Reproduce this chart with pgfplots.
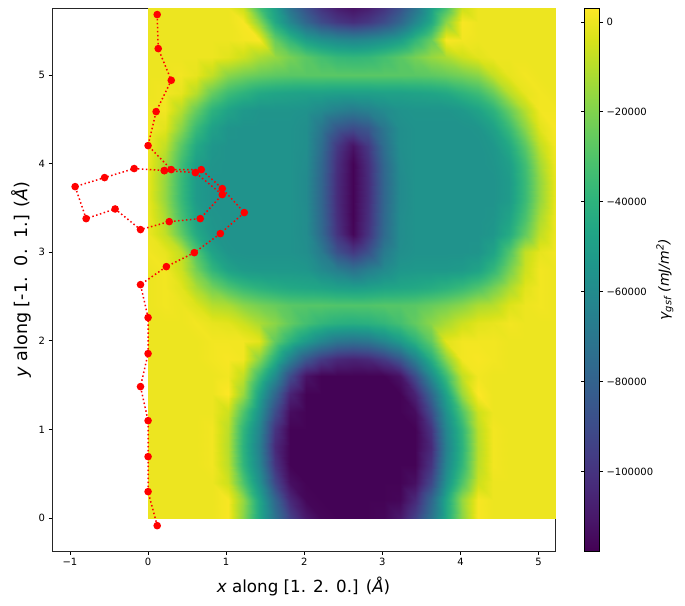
\documentclass[border=0pt]{standalone}
\usepackage{pgfplots}
\pgfplotsset{compat=1.18}
\usepackage{fontspec}
\setmainfont{DejaVu Sans}
\begin{document}
\begin{tikzpicture}[x=1pt,y=1pt]
\path[use as bounding box] (0,0) rectangle (685,605);
\begin{axis}[
 at={(52pt,54pt)},anchor=south west,scale only axis,width=503pt,height=543pt,
 xmin=-1.23,xmax=5.21,ymin=-0.372,ymax=5.756,
 tick align=outside,major tick length=3.5pt,
 tick style={black,line width=0.8pt},axis line style={line width=0.8pt,black!85},
 xtick={-1,0,1,2,3,4,5},xticklabels={−1,0,1,2,3,4,5},
 ytick={0,1,2,3,4,5},yticklabels={0,1,2,3,4,5},
 ticklabel style={font=\fontsize{10}{12}\selectfont},
 xtick pos=bottom,ytick pos=left,
 xlabel={\textit{x} along [1. 2. 0.] (\textit{Å})},
 ylabel={\textit{y} along [-1.\ \ 0.\ \ 1.] (\textit{Å})},
 xlabel style={font=\fontsize{16.7}{20}\selectfont,at={(axis description cs:0.5,-0.0645)},anchor=center},
 ylabel style={font=\fontsize{17.5}{20}\selectfont,at={(axis description cs:-0.0616,0.5)},anchor=center},
 colormap/viridis,point meta min=-117700,point meta max=3100,
 colorbar,
 colorbar style={width=15pt,at={(parent axis.north east)},anchor=north west,xshift=21pt,
  ytick={0,-20000,-40000,-60000,-80000,-100000},
  yticklabels={0,−20000,−40000,−60000,−80000,−100000},
  ticklabel style={font=\fontsize{10}{12}\selectfont},
  major tick length=3.5pt,tick align=outside,
  ylabel={\textit{γ\textsubscript{gsf} (mJ/m\textsuperscript{2})}},
  ylabel style={font=\fontsize{14}{16}\selectfont,rotate=0,at={(axis description cs:5.35,0.5)},anchor=center},
 },
]
\addplot[surf,shader=interp,mesh/cols=27,point meta=explicit] table[row sep=\\,x=x,y=y,meta=v] {
x y v\\
0 0 0\\0.22 0 0\\0.42 0 0\\0.62 0 0\\0.82 0 0\\1.02 0 2000\\1.22 0 -18000\\1.42 0 -45000\\1.62 0 -72000\\1.82 0 -95000\\2.02 0 -110000\\2.22 0 -116000\\2.42 0 -117000\\2.62 0 -117000\\2.82 0 -117000\\3.02 0 -116000\\3.22 0 -110000\\3.42 0 -95000\\3.62 0 -72000\\3.82 0 -45000\\4.02 0 -18000\\4.22 0 2000\\4.42 0 0\\4.62 0 0\\4.82 0 0\\5.02 0 0\\5.21 0 0\\
0 0.2 0\\0.22 0.2 0\\0.42 0.2 0\\0.62 0.2 0\\0.82 0.2 0\\1.02 0.2 2000\\1.22 0.2 -16000\\1.42 0.2 -46000\\1.62 0.2 -78000\\1.82 0.2 -104000\\2.02 0.2 -116000\\2.22 0.2 -117000\\2.42 0.2 -117000\\2.62 0.2 -117000\\2.82 0.2 -117000\\3.02 0.2 -117000\\3.22 0.2 -116000\\3.42 0.2 -104000\\3.62 0.2 -78000\\3.82 0.2 -46000\\4.02 0.2 -16000\\4.22 0.2 2000\\4.42 0.2 0\\4.62 0.2 0\\4.82 0.2 0\\5.02 0.2 0\\5.21 0.2 0\\
0 0.4 0\\0.22 0.4 0\\0.42 0.4 0\\0.62 0.4 0\\0.82 0.4 0\\1.02 0.4 -6000\\1.22 0.4 -30000\\1.42 0.4 -56000\\1.62 0.4 -92000\\1.82 0.4 -113000\\2.02 0.4 -117000\\2.22 0.4 -117000\\2.42 0.4 -117000\\2.62 0.4 -117000\\2.82 0.4 -117000\\3.02 0.4 -117000\\3.22 0.4 -117000\\3.42 0.4 -113000\\3.62 0.4 -92000\\3.82 0.4 -56000\\4.02 0.4 -30000\\4.22 0.4 -6000\\4.42 0.4 0\\4.62 0.4 0\\4.82 0.4 0\\5.02 0.4 0\\5.21 0.4 0\\
0 0.6 0\\0.22 0.6 0\\0.42 0.6 0\\0.62 0.6 0\\0.82 0.6 1000\\1.02 0.6 -9000\\1.22 0.6 -38000\\1.42 0.6 -62000\\1.62 0.6 -100000\\1.82 0.6 -117000\\2.02 0.6 -117000\\2.22 0.6 -117000\\2.42 0.6 -117000\\2.62 0.6 -117000\\2.82 0.6 -117000\\3.02 0.6 -117000\\3.22 0.6 -117000\\3.42 0.6 -117000\\3.62 0.6 -100000\\3.82 0.6 -62000\\4.02 0.6 -38000\\4.22 0.6 -9000\\4.42 0.6 1000\\4.62 0.6 0\\4.82 0.6 0\\5.02 0.6 0\\5.21 0.6 0\\
0 0.8 0\\0.22 0.8 0\\0.42 0.8 0\\0.62 0.8 0\\0.82 0.8 1000\\1.02 0.8 -10000\\1.22 0.8 -40000\\1.42 0.8 -65000\\1.62 0.8 -104000\\1.82 0.8 -117000\\2.02 0.8 -117000\\2.22 0.8 -117000\\2.42 0.8 -117000\\2.62 0.8 -117000\\2.82 0.8 -117000\\3.02 0.8 -117000\\3.22 0.8 -117000\\3.42 0.8 -117000\\3.62 0.8 -104000\\3.82 0.8 -65000\\4.02 0.8 -40000\\4.22 0.8 -10000\\4.42 0.8 1000\\4.62 0.8 0\\4.82 0.8 0\\5.02 0.8 0\\5.21 0.8 0\\
0 1 0\\0.22 1 0\\0.42 1 0\\0.62 1 0\\0.82 1 1000\\1.02 1 -9000\\1.22 1 -38000\\1.42 1 -62000\\1.62 1 -100000\\1.82 1 -117000\\2.02 1 -117000\\2.22 1 -117000\\2.42 1 -117000\\2.62 1 -117000\\2.82 1 -117000\\3.02 1 -117000\\3.22 1 -117000\\3.42 1 -117000\\3.62 1 -100000\\3.82 1 -62000\\4.02 1 -38000\\4.22 1 -9000\\4.42 1 1000\\4.62 1 0\\4.82 1 0\\5.02 1 0\\5.21 1 0\\
0 1.2 0\\0.22 1.2 0\\0.42 1.2 0\\0.62 1.2 0\\0.82 1.2 0\\1.02 1.2 -6000\\1.22 1.2 -30000\\1.42 1.2 -56000\\1.62 1.2 -90000\\1.82 1.2 -114000\\2.02 1.2 -117000\\2.22 1.2 -117000\\2.42 1.2 -117000\\2.62 1.2 -117000\\2.82 1.2 -117000\\3.02 1.2 -117000\\3.22 1.2 -117000\\3.42 1.2 -114000\\3.62 1.2 -90000\\3.82 1.2 -56000\\4.02 1.2 -30000\\4.22 1.2 -6000\\4.42 1.2 0\\4.62 1.2 0\\4.82 1.2 0\\5.02 1.2 0\\5.21 1.2 0\\
0 1.4 0\\0.22 1.4 0\\0.42 1.4 0\\0.62 1.4 0\\0.82 1.4 0\\1.02 1.4 3000\\1.22 1.4 -15000\\1.42 1.4 -48000\\1.62 1.4 -78000\\1.82 1.4 -106000\\2.02 1.4 -117000\\2.22 1.4 -117000\\2.42 1.4 -117000\\2.62 1.4 -117000\\2.82 1.4 -117000\\3.02 1.4 -117000\\3.22 1.4 -117000\\3.42 1.4 -106000\\3.62 1.4 -78000\\3.82 1.4 -48000\\4.02 1.4 -15000\\4.22 1.4 3000\\4.42 1.4 0\\4.62 1.4 0\\4.82 1.4 0\\5.02 1.4 0\\5.21 1.4 0\\
0 1.6 0\\0.22 1.6 0\\0.42 1.6 0\\0.62 1.6 0\\0.82 1.6 0\\1.02 1.6 1000\\1.22 1.6 -8000\\1.42 1.6 -35000\\1.62 1.6 -60000\\1.82 1.6 -90000\\2.02 1.6 -112000\\2.22 1.6 -117000\\2.42 1.6 -117000\\2.62 1.6 -117000\\2.82 1.6 -117000\\3.02 1.6 -117000\\3.22 1.6 -112000\\3.42 1.6 -90000\\3.62 1.6 -60000\\3.82 1.6 -35000\\4.02 1.6 -8000\\4.22 1.6 1000\\4.42 1.6 0\\4.62 1.6 0\\4.82 1.6 0\\5.02 1.6 0\\5.21 1.6 0\\
0 1.8 0\\0.22 1.8 0\\0.42 1.8 0\\0.62 1.8 0\\0.82 1.8 1000\\1.02 1.8 2000\\1.22 1.8 1000\\1.42 1.8 -18000\\1.62 1.8 -42000\\1.82 1.8 -65000\\2.02 1.8 -85000\\2.22 1.8 -97000\\2.42 1.8 -104000\\2.62 1.8 -106000\\2.82 1.8 -104000\\3.02 1.8 -97000\\3.22 1.8 -85000\\3.42 1.8 -65000\\3.62 1.8 -42000\\3.82 1.8 -18000\\4.02 1.8 1000\\4.22 1.8 2000\\4.42 1.8 1000\\4.62 1.8 0\\4.82 1.8 0\\5.02 1.8 0\\5.21 1.8 0\\
0 2 0\\0.22 2 0\\0.42 2 0\\0.62 2 0\\0.82 2 1000\\1.02 2 1000\\1.22 2 1000\\1.42 2 -2000\\1.62 2 -26000\\1.82 2 -40000\\2.02 2 -52000\\2.22 2 -62000\\2.42 2 -70000\\2.62 2 -72000\\2.82 2 -70000\\3.02 2 -62000\\3.22 2 -52000\\3.42 2 -40000\\3.62 2 -26000\\3.82 2 -2000\\4.02 2 1000\\4.22 2 1000\\4.42 2 1000\\4.62 2 0\\4.82 2 0\\5.02 2 0\\5.21 2 0\\
0 2.2 0\\0.22 2.2 0\\0.42 2.2 0\\0.62 2.2 1000\\0.82 2.2 -1000\\1.02 2.2 -2000\\1.22 2.2 -6000\\1.42 2.2 -12000\\1.62 2.2 -18000\\1.82 2.2 -26000\\2.02 2.2 -33000\\2.22 2.2 -38000\\2.42 2.2 -41000\\2.62 2.2 -42000\\2.82 2.2 -41000\\3.02 2.2 -38000\\3.22 2.2 -33000\\3.42 2.2 -26000\\3.62 2.2 -18000\\3.82 2.2 -12000\\4.02 2.2 -6000\\4.22 2.2 -2000\\4.42 2.2 -1000\\4.62 2.2 1000\\4.82 2.2 0\\5.02 2.2 0\\5.21 2.2 0\\
0 2.4 0\\0.22 2.4 1000\\0.42 2.4 0\\0.62 2.4 -3000\\0.82 2.4 -10000\\1.02 2.4 -12000\\1.22 2.4 -18000\\1.42 2.4 -22000\\1.62 2.4 -25000\\1.82 2.4 -28000\\2.02 2.4 -29000\\2.22 2.4 -29000\\2.42 2.4 -30000\\2.62 2.4 -30000\\2.82 2.4 -30000\\3.02 2.4 -29000\\3.22 2.4 -29000\\3.42 2.4 -28000\\3.62 2.4 -25000\\3.82 2.4 -22000\\4.02 2.4 -18000\\4.22 2.4 -12000\\4.42 2.4 -10000\\4.62 2.4 -3000\\4.82 2.4 0\\5.02 2.4 1000\\5.21 2.4 0\\
0 2.6 0\\0.22 2.6 1000\\0.42 2.6 -2000\\0.62 2.6 -12000\\0.82 2.6 -22000\\1.02 2.6 -30000\\1.22 2.6 -36000\\1.42 2.6 -40000\\1.62 2.6 -43000\\1.82 2.6 -45000\\2.02 2.6 -46000\\2.22 2.6 -47000\\2.42 2.6 -49000\\2.62 2.6 -50000\\2.82 2.6 -49000\\3.02 2.6 -47000\\3.22 2.6 -46000\\3.42 2.6 -45000\\3.62 2.6 -43000\\3.82 2.6 -40000\\4.02 2.6 -36000\\4.22 2.6 -30000\\4.42 2.6 -22000\\4.62 2.6 -12000\\4.82 2.6 -2000\\5.02 2.6 1000\\5.21 2.6 0\\
0 2.8 0\\0.22 2.8 1000\\0.42 2.8 -6000\\0.62 2.8 -22000\\0.82 2.8 -38000\\1.02 2.8 -48000\\1.22 2.8 -52000\\1.42 2.8 -53000\\1.62 2.8 -53000\\1.82 2.8 -53000\\2.02 2.8 -54000\\2.22 2.8 -60000\\2.42 2.8 -66000\\2.62 2.8 -72000\\2.82 2.8 -66000\\3.02 2.8 -60000\\3.22 2.8 -54000\\3.42 2.8 -53000\\3.62 2.8 -53000\\3.82 2.8 -53000\\4.02 2.8 -52000\\4.22 2.8 -48000\\4.42 2.8 -38000\\4.62 2.8 -22000\\4.82 2.8 -6000\\5.02 2.8 1000\\5.21 2.8 0\\
0 3 1000\\0.22 3 -1000\\0.42 3 -8000\\0.62 3 -30000\\0.82 3 -48000\\1.02 3 -55000\\1.22 3 -56000\\1.42 3 -56000\\1.62 3 -56000\\1.82 3 -56000\\2.02 3 -58000\\2.22 3 -68000\\2.42 3 -88000\\2.62 3 -98000\\2.82 3 -88000\\3.02 3 -68000\\3.22 3 -58000\\3.42 3 -56000\\3.62 3 -56000\\3.82 3 -56000\\4.02 3 -56000\\4.22 3 -55000\\4.42 3 -48000\\4.62 3 -30000\\4.82 3 -8000\\5.02 3 -1000\\5.21 3 1000\\
0 3.2 0\\0.22 3.2 -8000\\0.42 3.2 -26000\\0.62 3.2 -44000\\0.82 3.2 -54000\\1.02 3.2 -56000\\1.22 3.2 -56000\\1.42 3.2 -56000\\1.62 3.2 -56000\\1.82 3.2 -56000\\2.02 3.2 -59000\\2.22 3.2 -76000\\2.42 3.2 -100000\\2.62 3.2 -116000\\2.82 3.2 -100000\\3.02 3.2 -76000\\3.22 3.2 -59000\\3.42 3.2 -56000\\3.62 3.2 -56000\\3.82 3.2 -56000\\4.02 3.2 -56000\\4.22 3.2 -56000\\4.42 3.2 -54000\\4.62 3.2 -44000\\4.82 3.2 -26000\\5.02 3.2 -8000\\5.21 3.2 0\\
0 3.4 0\\0.22 3.4 -12000\\0.42 3.4 -32000\\0.62 3.4 -48000\\0.82 3.4 -55000\\1.02 3.4 -56000\\1.22 3.4 -56000\\1.42 3.4 -56000\\1.62 3.4 -56000\\1.82 3.4 -56000\\2.02 3.4 -59000\\2.22 3.4 -77000\\2.42 3.4 -102000\\2.62 3.4 -117000\\2.82 3.4 -102000\\3.02 3.4 -77000\\3.22 3.4 -59000\\3.42 3.4 -56000\\3.62 3.4 -56000\\3.82 3.4 -56000\\4.02 3.4 -56000\\4.22 3.4 -56000\\4.42 3.4 -55000\\4.62 3.4 -48000\\4.82 3.4 -32000\\5.02 3.4 -12000\\5.21 3.4 0\\
0 3.6 -1000\\0.22 3.6 -16000\\0.42 3.6 -36000\\0.62 3.6 -52000\\0.82 3.6 -56000\\1.02 3.6 -56000\\1.22 3.6 -56000\\1.42 3.6 -56000\\1.62 3.6 -56000\\1.82 3.6 -56000\\2.02 3.6 -60000\\2.22 3.6 -78000\\2.42 3.6 -103000\\2.62 3.6 -117000\\2.82 3.6 -103000\\3.02 3.6 -78000\\3.22 3.6 -60000\\3.42 3.6 -56000\\3.62 3.6 -56000\\3.82 3.6 -56000\\4.02 3.6 -56000\\4.22 3.6 -56000\\4.42 3.6 -56000\\4.62 3.6 -52000\\4.82 3.6 -36000\\5.02 3.6 -16000\\5.21 3.6 -1000\\
0 3.8 -1000\\0.22 3.8 -16000\\0.42 3.8 -36000\\0.62 3.8 -52000\\0.82 3.8 -56000\\1.02 3.8 -56000\\1.22 3.8 -56000\\1.42 3.8 -56000\\1.62 3.8 -56000\\1.82 3.8 -56000\\2.02 3.8 -60000\\2.22 3.8 -78000\\2.42 3.8 -103000\\2.62 3.8 -117000\\2.82 3.8 -103000\\3.02 3.8 -78000\\3.22 3.8 -60000\\3.42 3.8 -56000\\3.62 3.8 -56000\\3.82 3.8 -56000\\4.02 3.8 -56000\\4.22 3.8 -56000\\4.42 3.8 -56000\\4.62 3.8 -52000\\4.82 3.8 -36000\\5.02 3.8 -16000\\5.21 3.8 -1000\\
0 4 0\\0.22 4 -13000\\0.42 4 -34000\\0.62 4 -50000\\0.82 4 -55000\\1.02 4 -56000\\1.22 4 -56000\\1.42 4 -56000\\1.62 4 -56000\\1.82 4 -56000\\2.02 4 -59000\\2.22 4 -77000\\2.42 4 -102000\\2.62 4 -117000\\2.82 4 -102000\\3.02 4 -77000\\3.22 4 -59000\\3.42 4 -56000\\3.62 4 -56000\\3.82 4 -56000\\4.02 4 -56000\\4.22 4 -56000\\4.42 4 -55000\\4.62 4 -50000\\4.82 4 -34000\\5.02 4 -13000\\5.21 4 0\\
0 4.2 1000\\0.22 4.2 -8000\\0.42 4.2 -28000\\0.62 4.2 -45000\\0.82 4.2 -54000\\1.02 4.2 -56000\\1.22 4.2 -56000\\1.42 4.2 -56000\\1.62 4.2 -56000\\1.82 4.2 -56000\\2.02 4.2 -58000\\2.22 4.2 -74000\\2.42 4.2 -98000\\2.62 4.2 -112000\\2.82 4.2 -98000\\3.02 4.2 -74000\\3.22 4.2 -58000\\3.42 4.2 -56000\\3.62 4.2 -56000\\3.82 4.2 -56000\\4.02 4.2 -56000\\4.22 4.2 -56000\\4.42 4.2 -54000\\4.62 4.2 -45000\\4.82 4.2 -28000\\5.02 4.2 -8000\\5.21 4.2 1000\\
0 4.4 2000\\0.22 4.4 -2000\\0.42 4.4 -18000\\0.62 4.4 -36000\\0.82 4.4 -49000\\1.02 4.4 -55000\\1.22 4.4 -56000\\1.42 4.4 -56000\\1.62 4.4 -56000\\1.82 4.4 -56000\\2.02 4.4 -58000\\2.22 4.4 -70000\\2.42 4.4 -85000\\2.62 4.4 -90000\\2.82 4.4 -85000\\3.02 4.4 -70000\\3.22 4.4 -58000\\3.42 4.4 -56000\\3.62 4.4 -56000\\3.82 4.4 -56000\\4.02 4.4 -56000\\4.22 4.4 -55000\\4.42 4.4 -49000\\4.62 4.4 -36000\\4.82 4.4 -18000\\5.02 4.4 -2000\\5.21 4.4 2000\\
0 4.6 1000\\0.22 4.6 1000\\0.42 4.6 -10000\\0.62 4.6 -25000\\0.82 4.6 -40000\\1.02 4.6 -48000\\1.22 4.6 -53000\\1.42 4.6 -55000\\1.62 4.6 -55000\\1.82 4.6 -55000\\2.02 4.6 -56000\\2.22 4.6 -60000\\2.42 4.6 -65000\\2.62 4.6 -68000\\2.82 4.6 -65000\\3.02 4.6 -60000\\3.22 4.6 -56000\\3.42 4.6 -55000\\3.62 4.6 -55000\\3.82 4.6 -55000\\4.02 4.6 -53000\\4.22 4.6 -48000\\4.42 4.6 -40000\\4.62 4.6 -25000\\4.82 4.6 -10000\\5.02 4.6 1000\\5.21 4.6 1000\\
0 4.8 0\\0.22 4.8 1000\\0.42 4.8 -1000\\0.62 4.8 -10000\\0.82 4.8 -25000\\1.02 4.8 -35000\\1.22 4.8 -40000\\1.42 4.8 -45000\\1.62 4.8 -47000\\1.82 4.8 -48000\\2.02 4.8 -49000\\2.22 4.8 -49000\\2.42 4.8 -50000\\2.62 4.8 -50000\\2.82 4.8 -50000\\3.02 4.8 -49000\\3.22 4.8 -49000\\3.42 4.8 -48000\\3.62 4.8 -47000\\3.82 4.8 -45000\\4.02 4.8 -40000\\4.22 4.8 -35000\\4.42 4.8 -25000\\4.62 4.8 -10000\\4.82 4.8 -1000\\5.02 4.8 1000\\5.21 4.8 0\\
0 5 0\\0.22 5 0\\0.42 5 1000\\0.62 5 -1000\\0.82 5 -8000\\1.02 5 -18000\\1.22 5 -22000\\1.42 5 -25000\\1.62 5 -27000\\1.82 5 -28000\\2.02 5 -28000\\2.22 5 -28000\\2.42 5 -28000\\2.62 5 -28000\\2.82 5 -28000\\3.02 5 -28000\\3.22 5 -28000\\3.42 5 -28000\\3.62 5 -27000\\3.82 5 -25000\\4.02 5 -22000\\4.22 5 -18000\\4.42 5 -8000\\4.62 5 -1000\\4.82 5 1000\\5.02 5 0\\5.21 5 0\\
0 5.2 0\\0.22 5.2 0\\0.42 5.2 0\\0.62 5.2 0\\0.82 5.2 0\\1.02 5.2 -2000\\1.22 5.2 -6000\\1.42 5.2 -12000\\1.62 5.2 -16000\\1.82 5.2 -22000\\2.02 5.2 -28000\\2.22 5.2 -33000\\2.42 5.2 -37000\\2.62 5.2 -38000\\2.82 5.2 -37000\\3.02 5.2 -33000\\3.22 5.2 -28000\\3.42 5.2 -22000\\3.62 5.2 -16000\\3.82 5.2 -12000\\4.02 5.2 -6000\\4.22 5.2 -2000\\4.42 5.2 0\\4.62 5.2 0\\4.82 5.2 0\\5.02 5.2 0\\5.21 5.2 0\\
0 5.4 0\\0.22 5.4 0\\0.42 5.4 0\\0.62 5.4 0\\0.82 5.4 0\\1.02 5.4 0\\1.22 5.4 1000\\1.42 5.4 2000\\1.62 5.4 -25000\\1.82 5.4 -38000\\2.02 5.4 -50000\\2.22 5.4 -56000\\2.42 5.4 -60000\\2.62 5.4 -62000\\2.82 5.4 -60000\\3.02 5.4 -56000\\3.22 5.4 -50000\\3.42 5.4 -38000\\3.62 5.4 -25000\\3.82 5.4 2000\\4.02 5.4 1000\\4.22 5.4 0\\4.42 5.4 0\\4.62 5.4 0\\4.82 5.4 0\\5.02 5.4 0\\5.21 5.4 0\\
0 5.6 0\\0.22 5.6 0\\0.42 5.6 0\\0.62 5.6 0\\0.82 5.6 0\\1.02 5.6 0\\1.22 5.6 2000\\1.42 5.6 -18000\\1.62 5.6 -45000\\1.82 5.6 -62000\\2.02 5.6 -78000\\2.22 5.6 -90000\\2.42 5.6 -98000\\2.62 5.6 -102000\\2.82 5.6 -98000\\3.02 5.6 -90000\\3.22 5.6 -78000\\3.42 5.6 -62000\\3.62 5.6 -45000\\3.82 5.6 -18000\\4.02 5.6 2000\\4.22 5.6 0\\4.42 5.6 0\\4.62 5.6 0\\4.82 5.6 0\\5.02 5.6 0\\5.21 5.6 0\\
0 5.756 0\\0.22 5.756 0\\0.42 5.756 0\\0.62 5.756 0\\0.82 5.756 0\\1.02 5.756 0\\1.22 5.756 -6000\\1.42 5.756 -32000\\1.62 5.756 -50000\\1.82 5.756 -72000\\2.02 5.756 -88000\\2.22 5.756 -100000\\2.42 5.756 -108000\\2.62 5.756 -112000\\2.82 5.756 -108000\\3.02 5.756 -100000\\3.22 5.756 -88000\\3.42 5.756 -72000\\3.62 5.756 -50000\\3.82 5.756 -32000\\4.02 5.756 -6000\\4.22 5.756 0\\4.42 5.756 0\\4.62 5.756 0\\4.82 5.756 0\\5.02 5.756 0\\5.21 5.756 0\\
};
\addplot[red,dash pattern=on 1.5pt off 2.475pt,line width=1.5pt,mark=*,mark size=3pt,mark options={solid,red}] coordinates {
(0.117,-0.086)(0,0.298)(0,0.693)(0,1.099)(-0.097,1.483)(0,1.856)(0,2.262)(-0.097,2.634)(0.234,2.837)(0.592,2.995)(0.925,3.210)(1.232,3.447)(0.950,3.718)(0.681,3.932)(0.297,3.932)(0,4.203)(0.103,4.587)(0.297,4.940)(0.130,5.298)(0.117,5.682)};
\addplot[red,dash pattern=on 1.5pt off 2.475pt,line width=1.5pt,mark=*,mark size=3pt,mark options={solid,red}] coordinates {
(0.208,3.921)(0.605,3.898)(0.950,3.650)(0.668,3.379)(0.271,3.345)(-0.097,3.255)(-0.422,3.488)(-0.793,3.379)(-0.934,3.740)(-0.557,3.842)(-0.178,3.944)(0.208,3.921)};
\end{axis}
\end{tikzpicture}
\end{document}
